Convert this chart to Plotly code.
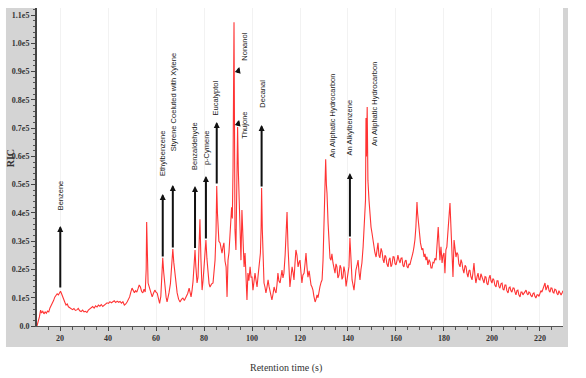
import plotly.graph_objects as go

# ---------------- data ----------------
retention_time = [
    10.4, 10.8, 11.4, 11.9, 12.3, 12.8, 13.3, 13.8, 14.3, 14.8, 15.3, 15.8, 16.3, 16.8, 17.3, 17.8,
    18.3, 18.8, 19.3, 19.8, 20.2, 20.6, 21.0, 21.5, 22.0, 22.5, 23.0, 23.5, 24.0, 24.6, 25.2, 25.8,
    26.4, 27.0, 27.6, 28.2, 28.8, 29.4, 30.0, 30.6, 31.2, 31.8, 32.4, 33.0, 33.6, 34.2, 34.8, 35.4,
    36.0, 36.6, 37.2, 37.8, 38.4, 39.0, 39.6, 40.2, 40.8, 41.4, 42.0, 42.6, 43.2, 43.8, 44.4, 45.0,
    45.6, 46.2, 46.8, 47.4, 48.0, 48.6, 49.0, 49.5, 50.0, 50.5, 51.0, 51.5, 52.0, 52.5, 53.0, 53.5,
    54.0, 54.5, 55.0, 55.5, 55.9, 56.1, 56.3, 56.7, 57.1, 57.5, 58.0, 58.4, 58.9, 59.5, 60.0, 60.5,
    61.0, 61.5, 62.0, 62.5, 62.8, 63.2, 63.7, 64.2, 64.6, 65.0, 65.4, 66.0, 66.6, 67.0, 67.4, 68.0,
    68.4, 68.8, 69.4, 70.0, 70.6, 71.2, 71.8, 72.5, 73.2, 73.8, 74.3, 74.6, 75.0, 75.4, 75.9, 76.25,
    76.6, 77.1, 77.5, 77.9, 78.3, 78.7, 79.2, 79.6, 80.0, 80.4, 80.8, 81.2, 81.7, 82.1, 82.5, 83.1,
    83.75, 84.2, 84.6, 85.0, 85.3, 85.6, 85.8, 86.2, 86.7, 87.1, 87.5, 87.9, 88.3, 88.75, 89.2, 89.6,
    90.0, 90.4, 90.8, 91.2, 91.5, 91.8, 92.1, 92.5, 92.7, 92.9, 93.3, 93.6, 94.0, 94.3, 94.6, 95.0,
    95.4, 95.8, 96.25, 96.7, 97.1, 97.5, 97.9, 98.3, 98.7, 99.2, 99.6, 100.0, 100.4, 100.8, 101.25, 101.7,
    102.1, 102.5, 102.9, 103.5, 103.8, 104.0, 104.3, 104.6, 105.0, 105.4, 105.8, 106.2, 106.7, 107.1, 107.5, 107.9,
    108.3, 108.8, 109.2, 109.6, 110.0, 110.4, 110.8, 111.2, 111.7, 112.1, 112.5, 112.9, 113.3, 113.8, 114.2, 114.6,
    115.0, 115.4, 115.8, 116.2, 116.7, 117.1, 117.5, 117.9, 118.3, 118.75, 119.2, 119.6, 120.0, 120.4, 120.8, 121.2,
    121.7, 122.1, 122.5, 122.9, 123.3, 123.8, 124.2, 124.6, 125.0, 125.4, 125.8, 126.3, 126.7, 127.1, 127.5, 127.9,
    128.3, 128.8, 129.2, 129.6, 130.0, 130.4, 130.7, 131.0, 131.25, 131.7, 132.1, 132.5, 132.9, 133.3, 133.75, 134.2,
    134.6, 135.0, 135.4, 135.8, 136.25, 136.7, 137.1, 137.5, 137.9, 138.3, 138.75, 139.2, 139.6, 140.0, 140.4, 140.8,
    141.2, 141.7, 142.1, 142.5, 142.9, 143.3, 143.8, 144.2, 144.6, 145.0, 145.4, 145.8, 146.3, 146.7, 147.0, 147.3,
    147.5, 147.7, 148.0, 148.3, 148.75, 149.2, 149.6, 150.0, 150.4, 150.8, 151.2, 151.7, 152.1, 152.5, 152.9, 153.3,
    153.8, 154.2, 154.6, 155.0, 155.4, 155.8, 156.2, 156.7, 157.1, 157.5, 157.9, 158.3, 158.8, 159.2, 159.6, 160.0,
    160.4, 160.8, 161.2, 161.7, 162.1, 162.5, 162.9, 163.3, 163.8, 164.2, 164.6, 165.0, 165.4, 165.8, 166.2, 166.7,
    167.1, 167.5, 167.9, 168.3, 168.75, 169.0, 169.4, 169.8, 170.2, 170.8, 171.2, 171.7, 172.1, 172.5, 172.9, 173.3,
    173.8, 174.2, 174.6, 175.0, 175.4, 175.8, 176.3, 176.7, 177.1, 177.6, 178.0, 178.3, 178.75, 179.2, 179.6, 180.0,
    180.4, 180.8, 181.2, 181.7, 182.1, 182.5, 182.9, 183.3, 183.75, 184.2, 184.6, 185.0, 185.4, 185.8, 186.2, 186.7,
    187.1, 187.5, 187.9, 188.3, 188.8, 189.2, 189.6, 190.0, 190.4, 190.8, 191.2, 191.7, 192.1, 192.5, 192.9, 193.3,
    193.8, 194.2, 194.6, 195.0, 195.4, 195.8, 196.2, 196.7, 197.1, 197.5, 197.9, 198.3, 198.8, 199.2, 199.6, 200.0,
    200.4, 200.8, 201.2, 201.7, 202.1, 202.5, 202.9, 203.3, 203.8, 204.2, 204.6, 205.0, 205.4, 205.8, 206.2, 206.7,
    207.1, 207.5, 207.9, 208.3, 208.8, 209.2, 209.6, 210.0, 210.4, 210.8, 211.2, 211.7, 212.1, 212.5, 212.9, 213.3,
    213.8, 214.2, 214.6, 215.0, 215.4, 215.8, 216.2, 216.7, 217.1, 217.5, 217.9, 218.3, 218.8, 219.2, 219.6, 220.0,
    220.4, 220.8, 221.2, 221.7, 222.1, 222.5, 222.9, 223.3, 223.8, 224.2, 224.6, 225.0, 225.4, 225.8, 226.2, 226.7,
    227.1, 227.5, 227.9, 228.3, 228.8, 229.2, 229.6,
]

ric_signal = [
    0, 1200, 3200, 5600, 4600, 5200, 4300, 5000, 4500, 5300, 5000, 6400, 7200, 8400, 9000, 10200,
    10800, 11400, 11000, 12000, 12300, 11500, 10400, 9200, 8400, 7400, 7800, 6800, 6500, 6300, 5800, 6200,
    5500, 5700, 6200, 5400, 5100, 5600, 5000, 5200, 4800, 5600, 6000, 6400, 6900, 6300, 7100, 6700,
    7400, 7000, 7600, 6900, 7300, 7800, 8200, 8000, 8600, 8200, 8500, 8900, 8300, 8800, 8400, 8700,
    8100, 8600, 7400, 7800, 8600, 9800, 10300, 12000, 13400, 12600, 11800, 12500, 12000, 13200, 14500, 13800,
    12200, 11700, 13000, 12000, 20000, 36800, 22000, 15200, 14000, 12700, 11200, 10300, 11500, 12700, 12000, 11600,
    9800, 8000, 10500, 18000, 24100, 19000, 13400, 10200, 8500, 9800, 11700, 15000, 22000, 27200, 22500, 17300,
    14000, 11700, 9500, 8500, 9400, 9900, 9000, 10300, 11500, 13400, 11000, 10300, 12500, 15600, 22000, 26900,
    21000, 15200, 17300, 25000, 37800, 24000, 12700, 16000, 20900, 25000, 30400, 24000, 17300, 15000, 13800, 14800,
    15200, 19000, 23300, 33000, 49500, 40000, 34000, 30000, 29400, 27000, 25800, 28000, 29400, 23000, 20900, 10300,
    23300, 26000, 31500, 35000, 42000, 38000, 56200, 107500, 60000, 34000, 26900, 45000, 70400, 55000, 44600, 30400,
    23300, 41000, 32900, 20900, 25800, 15200, 9200, 18700, 16000, 20900, 17300, 17300, 12700, 15500, 18700, 16000,
    13800, 17500, 20900, 25800, 35000, 48800, 34000, 23300, 15200, 13800, 11700, 13500, 16300, 14000, 12700, 11000,
    9200, 11500, 13800, 12500, 11700, 14500, 18700, 16000, 15200, 17500, 19800, 17000, 18700, 25000, 35000, 40300,
    28000, 18700, 13800, 17000, 20900, 19000, 16300, 22000, 26900, 25000, 20900, 22500, 23300, 19000, 15200, 18000,
    18700, 22000, 25800, 21000, 17300, 19500, 16300, 14500, 13800, 12700, 10500, 8500, 9500, 11000, 10000, 12700,
    13800, 15500, 16300, 23300, 35000, 52000, 59000, 50000, 47000, 36400, 28000, 24000, 23300, 25500, 22300, 20000,
    18700, 22000, 20900, 17000, 18000, 21500, 20500, 16500, 17300, 21000, 19000, 14000, 16300, 19500, 21000, 31100,
    22000, 16300, 14500, 12700, 16000, 19800, 21500, 23300, 19000, 16300, 20000, 22300, 28000, 34000, 40000, 44600,
    73600, 60000, 77500, 51600, 44600, 37500, 35000, 32900, 30000, 28000, 26000, 24400, 27000, 29400, 25000, 24100,
    27500, 26200, 23500, 22300, 25000, 24400, 22000, 20900, 23500, 24100, 21000, 21600, 24500, 24400, 22000, 21600,
    23000, 25100, 23500, 22300, 24000, 24100, 21500, 20900, 23000, 23300, 21000, 20500, 22000, 21600, 23000, 24400,
    26000, 28000, 30500, 35000, 43900, 40000, 36400, 31000, 29400, 26900, 27500, 24400, 25500, 23300, 24500, 21600,
    23500, 22600, 20500, 20500, 22500, 22300, 24000, 23300, 30400, 35000, 28000, 23300, 28000, 22300, 25000, 25800,
    18700, 26900, 28000, 32900, 38600, 43500, 35000, 28000, 17300, 30400, 27000, 24400, 26000, 25300, 22000, 20900,
    23500, 22300, 20000, 18700, 21500, 20900, 18500, 17300, 19500, 19800, 17500, 16300, 19000, 22300, 18000, 15200,
    17500, 18700, 16500, 16300, 18500, 17300, 16000, 15200, 17500, 17300, 15000, 14500, 17000, 18000, 16000, 15200,
    16800, 16300, 14500, 13800, 16000, 16000, 14000, 13400, 15000, 15200, 13000, 12700, 14500, 14500, 12500, 11700,
    13500, 13800, 12500, 12000, 13500, 13400, 12000, 11000, 12500, 12700, 11000, 10300, 12000, 12000, 11000, 11700,
    12500, 12700, 11500, 11000, 12000, 11700, 10800, 10300, 11500, 11700, 10500, 9900, 11000, 11000, 10500, 11700,
    12500, 12000, 13000, 13800, 15200, 12700, 13500, 14500, 12500, 12000, 13500, 13400, 12000, 11700, 13000, 12700,
    11500, 11000, 12500, 12000, 11000, 11700, 12500,
]

y_tick_values = [0, 10000, 20000, 30000, 40000, 50000, 60000, 70000, 80000, 90000, 100000, 110000]
y_tick_labels = ["0.0", "0.1e5", "0.2e5", "0.3e5", "0.4e5", "0.5e5", "0.6e5", "0.7e5", "0.8e5",
                 "0.9e5", "1.0e5", "1.1e5"]
x_tick_values = [20, 40, 60, 80, 100, 120, 140, 160, 180, 200, 220]
x_tick_labels = ["20", "40", "60", "80", "100", "120", "140", "160", "180", "200", "220"]

# compound labels: text, retention time, label base height, vertical anchor
compound_names = ["Benzene", "Ethylbenzene", "Styrene Coeluted with Xylene", "Benzaldehyde",
                  "p-Cymene", "Eucalyptol", "Nonanol", "Thujone", "Decanal",
                  "An Aliphatic Hydrocarbon", "An Alkylbenzene", "An Aliphatic Hydrocarbon"]
label_times = [20.1, 62.8, 67.2, 76.25, 81.0, 84.6, 96.9, 96.7, 104.0, 133.2, 140.8, 151.25]
label_heights = [40300, 52400, 61200, 54500, 56200, 73600, 93000, 76400, 76400, 58700, 59800, 63000]
label_anchor = ["bottom"] * 7 + ["top"] + ["bottom"] * 4

# arrows: head (time, height) and tail (time, height)
arrow_head_t = [20.1, 62.8, 67.0, 76.25, 80.8, 85.3, 94.7, 94.6, 104.0, 140.8]
arrow_head_y = [35400, 46700, 49900, 49500, 53100, 72200, 91600, 72900, 71100, 54100]
arrow_tail_t = [20.1, 62.8, 67.0, 76.25, 80.8, 85.3, 93.9, 93.9, 104.0, 140.8]
arrow_tail_y = [13100, 24100, 27200, 27100, 30400, 49900, 89100, 70400, 48800, 31100]

# ---------------- figure ----------------
fig = go.Figure()
fig.add_trace(go.Scatter(
    x=retention_time, y=ric_signal, mode="lines",
    line=dict(color="rgba(255,0,0,0.8)", width=1.1),
    showlegend=False, hoverinfo="skip",
))

serif_bold = dict(family="Liberation Serif", size=8, color="#333333", weight="bold")

fig.update_layout(
    width=586, height=378,
    margin=dict(l=37, r=23, t=8, b=52),
    paper_bgcolor="white", plot_bgcolor="white",
    xaxis=dict(
        range=[10.4, 229.6], tickmode="array", tickvals=x_tick_values, ticktext=x_tick_labels,
        ticks="outside", ticklen=4, tickcolor="#444444", tickwidth=1,
        showline=True, linecolor="#555555", linewidth=1,
        showgrid=True, gridcolor="#f2f2f2", gridwidth=1, zeroline=False,
        tickfont=serif_bold,
        minor=dict(dtick=5, tick0=0, ticks="outside", ticklen=3, tickcolor="#555555", showgrid=False),
    ),
    yaxis=dict(
        range=[0, 112500], tickmode="array", tickvals=y_tick_values, ticktext=y_tick_labels,
        ticks="outside", ticklen=4, tickcolor="#444444", tickwidth=1,
        showline=True, linecolor="#444444", linewidth=2,
        showgrid=False, zeroline=False,
        tickfont=serif_bold,
        minor=dict(dtick=2000, tick0=0, ticks="outside", ticklen=2, tickcolor="#555555", showgrid=False),
    ),
    shapes=[
        dict(type="rect", xref="paper", yref="paper", x0=-0.059, x1=1.0095, y0=-0.066, y1=1.0,
             fillcolor="#d4d4d4", line=dict(width=0), layer="below"),
        dict(type="rect", xref="paper", yref="paper", x0=0, x1=1, y0=0, y1=1,
             fillcolor="white", line=dict(width=0), layer="below"),
    ],
)

annotations = []
for name, t, h, anc in zip(compound_names, label_times, label_heights, label_anchor):
    annotations.append(dict(
        x=t, y=h, xref="x", yref="y", text=name, showarrow=False, textangle=-90,
        xanchor="center", yanchor=anc,
        font=dict(family="Liberation Sans", size=7.5, color="#222222"),
    ))
for ht, hy, tt, ty in zip(arrow_head_t, arrow_head_y, arrow_tail_t, arrow_tail_y):
    annotations.append(dict(
        x=ht, y=hy, ax=tt, ay=ty, xref="x", yref="y", axref="x", ayref="y",
        text="", showarrow=True, arrowhead=2, arrowsize=0.6, arrowwidth=2,
        arrowcolor="#111111", standoff=0, startstandoff=0,
    ))
annotations.append(dict(
    x=-0.051, y=0.528, xref="paper", yref="paper", text="RIC", showarrow=False,
    textangle=-90, xanchor="center", yanchor="middle",
    font=dict(family="Liberation Serif", size=10, color="#333333", weight="bold"),
))
annotations.append(dict(
    x=0.473, y=-0.132, xref="paper", yref="paper", text="Retention time (s)", showarrow=False,
    xanchor="center", yanchor="middle",
    font=dict(family="Liberation Serif", size=10, color="#333333"),
))
fig.update_layout(annotations=annotations)

fig.write_html(
    "out.html",
    config={"displayModeBar": False},
    post_script="document.body.style.margin='0';document.body.style.overflow='hidden';",
)
